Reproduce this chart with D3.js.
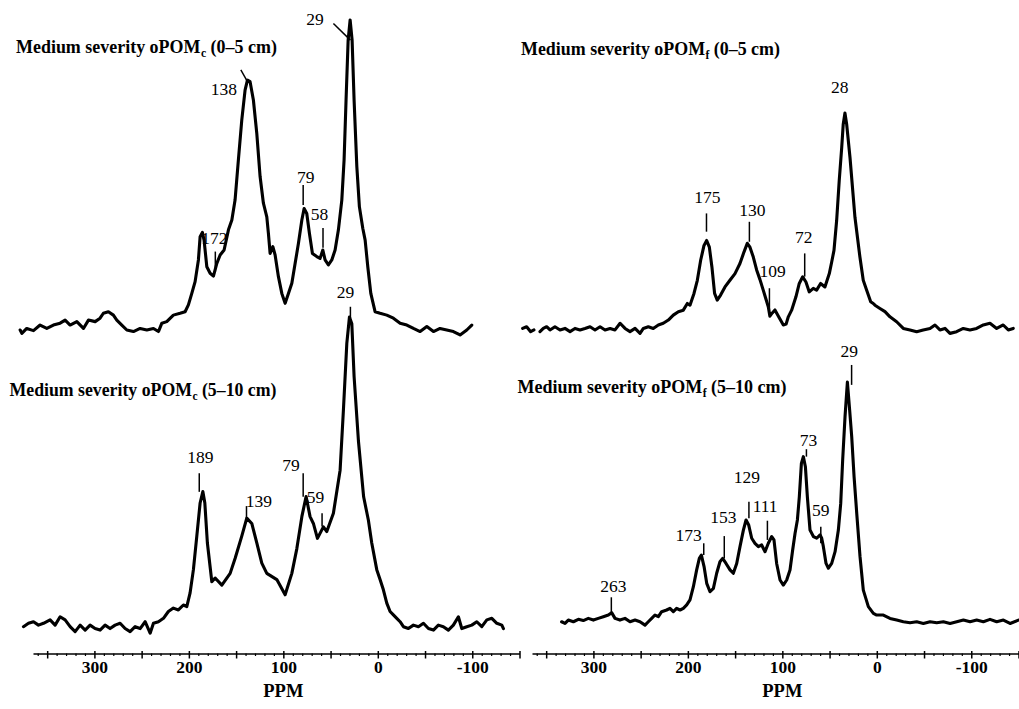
<!DOCTYPE html>
<html>
<head>
<meta charset="utf-8">
<script src="https://cdn.jsdelivr.net/npm/d3@7"></script>
<style>
  body { margin: 0; background: #fff; }
  svg { display: block; }
</style>
</head>
<body>
<svg id="chart" width="1019" height="709"></svg>
<script>
// 13C CPMAS NMR spectra, medium severity oPOM fractions.
// Each spectrum: [chemical shift (ppm), relative intensity (tallest peak = 100)].

const spectrumCoarse0to5 = [
  [378.6,0],[376.8,-1.1],[371.6,0.5],[364.5,-0.2],[357.5,1.6],[350.4,0.5],[343.4,1.6],[336.3,2.2],[331,3.2],
  [325.7,1.6],[318.6,2.7],[311.6,0.5],[306.3,3.2],[299.2,2.7],[294,3.8],[290.5,5.4],[285.2,5.9],[279.9,4.8],
  [276.3,3.2],[271,1.6],[265.7,0],[258.7,-0.5],[251.6,0.5],[244.5,0],[237.5,0.5],[232.2,-0.5],[228.6,2.2],
  [223.4,2.7],[216.4,4.8],[209.3,5.4],[204,5.9],[200.5,8.1],[196.9,11.8],[193.4,15.6],[189.9,22.6],[188.1,30.1],
  [185.7,31.5],[183.9,29],[181,20.4],[177.5,18.3],[174,17.4],[170.4,21.5],[166.9,24.2],[162.7,25.8],[158.1,32.3],
  [154.5,35.5],[151.1,41.9],[147.6,54.8],[144,67.7],[140.5,77.4],[138,80.6],[135.2,80.1],[131.7,74.2],[128.1,63.4],
  [124.6,49.5],[121.1,40.9],[117.5,36.5],[115.8,31.2],[114,24.7],[111.1,26.9],[108.7,24.2],[105.2,17.2],[101.6,11.8],
  [98.1,8.6],[94.6,11.8],[91,15.1],[87.5,21.5],[84,28],[80.4,35.5],[78,39.2],[75.2,37.6],[72.4,31.2],[69.2,24.7],
  [64.6,23.7],[61.1,23.1],[58.2,25.8],[55.8,22.6],[52.3,21],[48.7,22.6],[45.2,25.8],[41.7,32.3],[38.1,41.9],
  [35.7,54.8],[33.6,74.2],[31.4,93.5],[29.3,100],[27.2,93.5],[25.1,74.2],[22.2,52.7],[19.5,39.8],[15.9,32.8],
  [13.4,29],[10.6,20.4],[7.4,11.8],[2.9,5.9],[-2.4,5.4],[-9.5,4.8],[-16.5,3.8],[-23.6,2.2],[-30.7,1.6],
  [-37.7,0.5],[-44.8,-0.5],[-51.9,1.1],[-58.9,-0.5],[-65.9,0.5],[-73,0],[-80,-0.5],[-87.1,-1.6],[-94.2,0],[-99.5,1.6]
];

const spectrumCoarse5to10 = [
  [375.1,0.1],[369.8,1.2],[364.5,1.7],[359.2,0.6],[353.9,1.2],[346.9,2.3],[341.6,0.6],[336.3,3.3],[331,2.3],
  [325.7,0.1],[320.4,-1.5],[315.1,0.6],[309.8,-1],[304.6,0.6],[299.3,-0.5],[294,-1],[288.7,0.6],[283.4,-0.5],
  [278.1,0.6],[272.8,1.2],[267.5,-0.5],[262.2,-1.5],[256.9,0.1],[251.6,-0.5],[246.3,1.7],[241,-2],[237.5,1.2],
  [232.2,1.7],[226.9,2.8],[221.7,5],[216.4,6.1],[211.1,5.5],[205.8,7.1],[202.2,6.6],[198.7,11],[195.2,18.5],
  [191.6,29.3],[188.1,40],[185.2,43.7],[183.1,40],[180.4,27.1],[175.7,14.6],[172.2,15.8],[165.1,13.5],[156.3,17.3],
  [151,22.2],[144,29.3],[138.7,35.1],[133.4,33.4],[128.1,27.1],[122.8,20.6],[117.5,17.3],[106.9,15.3],[98.1,10.4],
  [91,17.3],[85.7,25.3],[80.4,35.6],[75.9,42.1],[71.7,35.6],[68.2,33.4],[63.9,28.6],[57.6,32.3],[54,30.8],
  [47,36.7],[39.9,50.6],[36.4,70],[32.8,91.5],[30,100],[27.5,97.8],[25.1,80.8],[20.5,60],[15,42],[10,34.5],
  [6.4,27.1],[1.1,18.5],[-2.4,15.3],[-5.9,12],[-9.5,7.7],[-13,5],[-16.5,3.9],[-20.1,2.8],[-23.6,1.7],[-27.1,0.1],
  [-32.4,-0.5],[-37.7,0.6],[-43,0.1],[-48.3,1.2],[-53.6,-0.5],[-58.9,-1],[-64.1,0.6],[-69.4,0.1],[-74.7,-1],
  [-80,0.6],[-85.3,3.3],[-88.9,-0.5],[-94.2,0.1],[-99.5,0.6],[-104.8,1.7],[-110.1,0.1],[-115.4,2.3],[-120.7,2.8],
  [-126,1.2],[-131.3,0.6],[-133,-0.5]
];

const spectrumFine0to5 = [
  [367.8,-0.2],[363.6,0.6],[359.4,-1.7],[355.9,-0.9],[352.7,null],[349.6,-1.7],[346.1,-0.2],[342.6,0.6],[339.1,-0.9],
  [333.9,0.6],[328.6,-0.9],[323.4,-0.2],[318.1,-1.7],[312.9,-0.2],[307.6,-0.9],[302.4,-0.2],[297.1,0.6],[291.9,-0.9],
  [286.6,0.6],[281.4,-0.9],[276.1,-0.2],[270.9,-0.9],[265.6,2.2],[260.4,-0.2],[255.2,-1.7],[249.9,-0.2],[244.7,-2.5],
  [241.2,-0.2],[236,0.6],[230.8,-0.2],[225.5,1.4],[220.3,2.2],[215,3.7],[209.8,6],[204.5,7.6],[199.3,8.3],
  [195.1,11.4],[192.3,10.6],[188.1,16.1],[184.6,22.2],[181.1,31.5],[177.6,38.4],[174.8,40.7],[172,37.6],[169.3,28.4],
  [166.5,16.1],[163.7,13],[160.2,15.3],[155.6,19.1],[150.4,22.2],[145.1,25.3],[139.9,30],[135.7,35.3],[132.2,39.4],
  [129.4,37.6],[125.9,33],[122.4,27],[118.9,22.5],[115.4,17.5],[113.7,15],[110.2,9.9],[108.5,5.5],[106,7],
  [103.2,8.4],[99,5],[94.4,1.4],[91.5,1.8],[89.2,5.2],[85.7,8.3],[81.2,14.5],[77.7,20.7],[74.1,23.8],[70.7,21.4],
  [67.2,16.8],[63,18.4],[59.5,17.6],[55.3,20.7],[50.8,19.1],[46.2,25.3],[43.7,30.7],[41.3,36.1],[38.5,50],
  [35.8,68.5],[33.2,83.9],[31.6,94.8],[29.8,100],[28,94.8],[24.5,79.3],[19.3,51.5],[14.1,33],[10.6,22.2],
  [7,17.6],[2.8,12.2],[0.1,11.4],[-1.7,10.6],[-6.9,9.1],[-12.2,7.6],[-17.4,5.2],[-24.4,2.9],[-31.4,-0.2],
  [-38.4,-0.9],[-45.4,-1.7],[-52.3,-0.9],[-59.4,-0.2],[-64.6,1.4],[-69.8,-0.9],[-75.1,-0.2],[-80.3,-2.5],
  [-87.3,-1.7],[-94.3,-0.2],[-101.3,-0.9],[-108.3,-0.2],[-115.3,1.4],[-122.3,2.2],[-129.3,-0.2],[-136.2,1.4],
  [-141.5,-0.9],[-146.7,-0.2]
];

const spectrumFine5to10 = [
  [311.4,0.1],[308.1,-0.6],[304.9,0.8],[300,0.1],[295.1,1.1],[290.3,0.6],[285.4,1.5],[280.5,0.8],[275.7,1.5],
  [270.8,2.2],[265.9,2.9],[262.7,3.9],[259.4,1.5],[254.6,0.8],[249.7,1.5],[244.8,0.1],[239.9,0.8],[235.1,0.1],
  [230.2,-1.3],[227,0.1],[223.7,1.5],[220.5,2.9],[217.2,2.2],[214,4.3],[209.1,5],[205.9,5.7],[202.6,4.3],
  [199.4,5.7],[196.1,5],[192.9,5.7],[189.6,7.1],[186.4,9.2],[183.1,14.7],[179.9,21.7],[177.3,26.5],[175.3,27.9],
  [172.7,23.1],[170.1,16.1],[166.9,12.6],[163.6,14],[160.4,20.3],[157.2,25.1],[154.6,26.5],[151.3,24.4],[147.4,21.7],
  [144.2,20.3],[140.9,24.4],[137.7,31.4],[134.4,38.3],[131.8,42.5],[129.2,40.4],[126.3,34.9],[123.1,32.8],
  [119.8,31.4],[116.6,32.1],[113.3,29.3],[110.1,32.8],[106.8,35.6],[104.6,34.2],[102,24.4],[98.7,17.5],[95.5,15.4],
  [92.2,17.5],[89,21.7],[86.4,30],[84.1,36.9],[81.8,42.5],[79.9,52.2],[77.9,66.1],[76,68.9],[74,64.7],[72.1,52.2],
  [69.5,38.3],[66.2,35.6],[63,34.9],[59.7,36.3],[58.1,34.9],[56.5,31.4],[53.9,24.4],[51.6,22.4],[48.4,24.4],
  [45.1,29.3],[41.9,38.3],[39.6,49.4],[37.7,67.5],[35.4,85.6],[33.1,100],[30.9,88.3],[28.9,77.2],[26.6,60.6],
  [24,45.3],[20.8,27.2],[17.6,13.3],[12.7,6.4],[7.8,3.6],[4.6,2.9],[-1.9,2.9],[-8.4,1.5],[-14.9,0.8],[-21.4,0.1],
  [-27.9,-0.3],[-34.4,0.1],[-40.9,-0.6],[-47.4,0.1],[-53.9,-0.3],[-60.4,0.1],[-66.9,-0.6],[-73.4,0.1],[-79.9,0.8],
  [-86.4,0.1],[-92.8,0.8],[-99.3,0.1],[-105.8,1.1],[-112.3,0.1],[-118.8,0.8],[-125.3,-0.6],[-133.5,0.8]
];

// Assigned peak positions (ppm) for each spectrum
const peaksCoarse0to5 = [29, 138, 172, 79, 58];
const peaksCoarse5to10 = [189, 139, 79, 59, 29];
const peaksFine0to5 = [175, 130, 109, 72, 28];
const peaksFine5to10 = [263, 173, 153, 129, 111, 73, 59, 29];

// Axis tick labels (ppm)
const axisLabels = [300, 200, 100, 0, -100];

// Panel titles
const titles = [
  { main: 'Medium severity oPOM', sub: 'c', depth: '(0–5 cm)' },
  { main: 'Medium severity oPOM', sub: 'c', depth: '(5–10 cm)' },
  { main: 'Medium severity oPOM', sub: 'f', depth: '(0–5 cm)' },
  { main: 'Medium severity oPOM', sub: 'f', depth: '(5–10 cm)' }
];

// ---- layout ----
const FONT = '"Liberation Serif", "Times New Roman", serif';
const svg = d3.select('#chart');
const axisY = 653.5;
const shiftDomain = [365, -150];
const xAxisLeft = d3.scaleLinear().domain(shiftDomain).range([33, 519.5]);
const xAxisRight = d3.scaleLinear().domain(shiftDomain).range([532, 1018.5]);

// Peak annotation placement: leader/tick extent in intensity units, label offset in px
const markLayout = {
  c0: [
    { lead: true, end: 93.5, sx: -17, sy: -16.7, dx: -35.3, dy: -15 },
    { lead: true, end: 80.1, sx: -6.6, sy: -11.7, dx: -23.6, dy: 13.3 },
    { top: 25.3, bottom: 18.8, dx: -1, dy: -7.4 },
    { top: 46.8, bottom: 40.3, dx: 2.5, dy: -2.3 },
    { top: 32.9, bottom: 26.5, dx: -3.4, dy: -8 }
  ],
  c5: [
    { top: 49.6, bottom: 43.6, dx: 1, dy: -10 },
    { top: 39, bottom: 35.1, dx: 12.3, dy: 0.7 },
    { top: 49.6, bottom: 42, dx: -12.2, dy: -2.6 },
    { top: 36.7, bottom: 32.4, dx: -6.6, dy: -10.6 },
    { top: 103.3, bottom: 99.7, dx: -5, dy: -8.7 }
  ],
  f0: [
    { top: 53.3, bottom: 44.8, dx: 1, dy: -10.6 },
    { top: 49.4, bottom: 40.1, dx: 3, dy: -5.7 },
    { top: 18.5, bottom: 7.6, dx: 3.2, dy: -11.6 },
    { top: 34.7, bottom: 23.9, dx: -1, dy: -10.6 },
    { top: 109.2, bottom: 109.2, dx: -7, dy: 0, noTick: true }
  ],
  f5: [
    { top: 10.3, bottom: 2.9, dx: 2, dy: -5.6 },
    { top: 32.8, bottom: 27.9, dx: -15.2, dy: -2.6 },
    { top: 35.8, bottom: 26.5, dx: -1, dy: -12.7 },
    { top: 50.1, bottom: 43.2, dx: -2, dy: -18.4 },
    { top: 42.2, bottom: 34.2, dx: -2.3, dy: -9 },
    { top: 72, bottom: 68.9, dx: 2, dy: -3.3 },
    { top: 39.7, bottom: 32.8, dx: 0, dy: -10.7 },
    { top: 107.1, bottom: 98.8, dx: -2.4, dy: -8.3 }
  ]
};

const panels = [
  { id: 'c0', data: spectrumCoarse0to5, peaks: peaksCoarse0to5, title: titles[0],
    x: xAxisLeft, y: d3.scaleLinear().domain([0, 100]).range([330, 20]),
    tpos: { x: 16, y: 53, w: 261 } },
  { id: 'c5', data: spectrumCoarse5to10, peaks: peaksCoarse5to10, title: titles[1],
    x: xAxisLeft, y: d3.scaleLinear().domain([0, 100]).range([627, 317]),
    tpos: { x: 9.5, y: 396, w: 267 } },
  { id: 'f0', data: spectrumFine0to5, peaks: peaksFine0to5, title: titles[2],
    x: d3.scaleLinear().domain(shiftDomain).range([525.3, 1016.4]),
    y: d3.scaleLinear().domain([0, 100]).range([328, 113]),
    tpos: { x: 521, y: 55, w: 259 } },
  { id: 'f5', data: spectrumFine5to10, peaks: peaksFine5to10, title: titles[3],
    x: d3.scaleLinear().domain(shiftDomain).range([506.6, 1035.4]),
    y: d3.scaleLinear().domain([0, 100]).range([622, 382]),
    tpos: { x: 517.5, y: 393.3, w: 269 } }
];

panels.forEach(p => {
  const g = svg.append('g').attr('class', 'panel-' + p.id);

  // spectrum trace
  const line = d3.line()
    .defined(d => d[1] !== null)
    .x(d => p.x(d[0]))
    .y(d => p.y(d[1]));
  g.append('path')
    .datum(p.data)
    .attr('d', line)
    .attr('fill', 'none')
    .attr('stroke', '#000')
    .attr('stroke-width', 3.1)
    .attr('stroke-linejoin', 'round')
    .attr('stroke-linecap', 'round');

  // peak assignments
  p.peaks.forEach((ppm, i) => {
    const m = markLayout[p.id][i];
    const px = p.x(ppm);
    let ax, ay;
    if (m.lead) {
      const ey = p.y(m.end);
      g.append('line')
        .attr('x1', px + m.sx).attr('y1', ey + m.sy)
        .attr('x2', px).attr('y2', ey)
        .attr('stroke', '#000').attr('stroke-width', 1.5);
      ax = px; ay = ey;
    } else {
      const ty = p.y(m.top);
      if (!m.noTick) {
        g.append('line')
          .attr('x1', px).attr('y1', ty)
          .attr('x2', px).attr('y2', p.y(m.bottom))
          .attr('stroke', '#000').attr('stroke-width', 1.5);
      }
      ax = px; ay = ty;
    }
    g.append('text')
      .attr('x', ax + m.dx)
      .attr('y', ay + m.dy)
      .attr('text-anchor', 'middle')
      .attr('font-family', FONT)
      .attr('font-size', 17.5)
      .attr('fill', '#000')
      .text(ppm);
  });

  // title: main text, subscript fraction letter, sampling depth; stretched to its width
  const tg = g.append('g');
  const style = sel => sel
    .attr('font-family', FONT)
    .attr('font-weight', 'bold')
    .attr('fill', '#000');
  const tMain = tg.append('text').attr('x', 0).attr('y', 0)
    .attr('font-size', 18.5).call(style).text(p.title.main);
  const wMain = tMain.node().getComputedTextLength();
  const tSub = tg.append('text').attr('x', wMain + 0.3).attr('y', 4)
    .attr('font-size', 12).call(style).text(p.title.sub);
  const wSub = tSub.node().getComputedTextLength();
  const gap = 4.6;
  const tDepth = tg.append('text').attr('x', wMain + 0.3 + wSub + gap).attr('y', 0)
    .attr('font-size', 18.5).call(style).text(p.title.depth);
  const total = wMain + 0.3 + wSub + gap + tDepth.node().getComputedTextLength();
  tg.attr('transform', `translate(${p.tpos.x},${p.tpos.y}) scale(${p.tpos.w / total},1)`);
});

// ---- shared ppm axes ----
function drawAxis(scale) {
  const g = svg.append('g').attr('transform', `translate(0,${axisY})`);
  const minorVals = d3.range(-150, 366, 10).filter(v => v % 50 !== 0);
  const majorVals = d3.range(-150, 351, 50);

  const minor = d3.axisBottom(scale).tickValues(minorVals).tickSize(2.5).tickSizeOuter(0).tickFormat('');
  const gm = g.append('g').call(minor);
  gm.select('.domain').remove();
  gm.selectAll('.tick line').attr('stroke', '#000').attr('stroke-width', 1.2);

  const major = d3.axisBottom(scale)
    .tickValues(majorVals)
    .tickSize(5)
    .tickSizeOuter(0)
    .tickPadding(2.5)
    .tickFormat(d => axisLabels.includes(d) ? String(d) : '');
  const ga = g.append('g').call(major);
  ga.select('.domain').attr('stroke', '#000').attr('stroke-width', 1.5);
  ga.selectAll('.tick line').attr('y1', -2.5).attr('stroke', '#000').attr('stroke-width', 1.5);
  ga.selectAll('.tick text')
    .attr('font-family', FONT)
    .attr('font-size', 17.5)
    .attr('font-weight', 'bold')
    .attr('fill', '#000');

  g.append('text')
    .attr('x', scale(100))
    .attr('y', 43)
    .attr('text-anchor', 'middle')
    .attr('font-family', FONT)
    .attr('font-size', 18.5)
    .attr('font-weight', 'bold')
    .attr('fill', '#000')
    .text('PPM');
}
drawAxis(xAxisLeft);
drawAxis(xAxisRight);
</script>
</body>
</html>
